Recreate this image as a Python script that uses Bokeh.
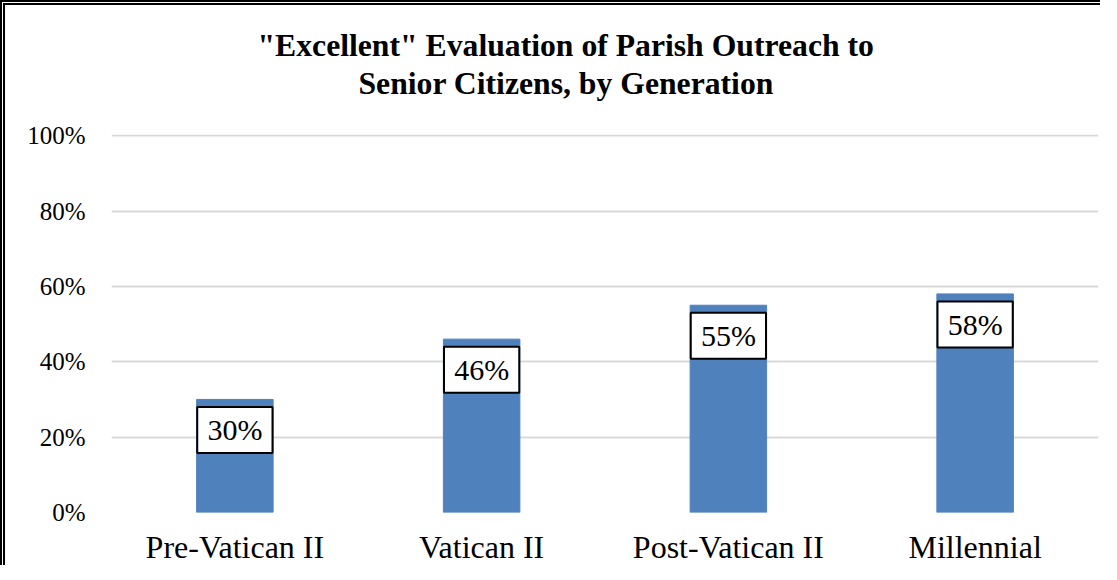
from bokeh.plotting import figure
from bokeh.models import ColumnDataSource, FactorRange, Range1d, NumeralTickFormatter, Title, FixedTicker
from bokeh.core.properties import value
from bokeh.embed import file_html
from bokeh.resources import INLINE

# Data
categories = ["Pre-Vatican II", "Vatican II", "Post-Vatican II", "Millennial"]
excellent = [0.30, 0.46, 0.55, 0.58]
labels = ["30%", "46%", "55%", "58%"]
y_ticks = [0, 0.2, 0.4, 0.6, 0.8, 1.0]
title_lines = ['"Excellent" Evaluation of Parish Outreach to', "Senior Citizens, by Generation"]

FONT = "Liberation Serif"

src = ColumnDataSource(dict(
    cat=categories,
    val=excellent,
    lab=labels,
    ly=[v - 0.081 for v in excellent],
))

p = figure(
    x_range=FactorRange(*categories),
    y_range=Range1d(0, 1.003),
    width=1100, height=565,
    output_backend="svg", toolbar_location=None,
    min_border_left=106, min_border_right=7,
    min_border_top=129, min_border_bottom=58,
    styles={"border-left": "5px double #000", "border-top": "5px double #000"},
    title=None,
)
p.outline_line_color = None
p.background_fill_color = "white"
p.border_fill_color = "white"

p.xgrid.grid_line_color = None
p.ygrid.grid_line_color = "#D9D9D9"
p.ygrid.grid_line_width = 2

for ax in (p.xaxis, p.yaxis):
    ax.axis_line_color = None
    ax.major_tick_line_color = None
    ax.minor_tick_line_color = None
    ax.major_tick_out = 0
    ax.major_tick_in = 0
    ax.major_label_text_font = FONT
    ax.major_label_text_color = "black"

p.yaxis.ticker = FixedTicker(ticks=y_ticks)
p.yaxis.formatter = NumeralTickFormatter(format="0%")
p.yaxis.major_label_text_font_size = "25px"
p.yaxis.major_label_standoff = 26
p.xaxis.major_label_text_font_size = "32px"
p.xaxis.major_label_standoff = 16

p.vbar(x="cat", top="val", width=0.31, fill_color="#4F81BD", line_color="#4F81BD", source=src)
p.rect(x="cat", y="ly", width=0.305, height=46, height_units="screen",
       fill_color="white", line_color="black", line_width=2, source=src)
p.text(x="cat", y="ly", text="lab", text_align="center", text_baseline="middle",
       text_font=value(FONT), text_font_size="30px", text_color="black", source=src)

# Title panels above the plot (first added sits closest to the plot area)
p.add_layout(Title(text="\u00a0", standoff=31, text_font_size="1px"), "above")  # spacer
p.add_layout(Title(text=title_lines[1], align="left", offset=247, standoff=0,
                   text_font=FONT, text_font_style="bold", text_font_size="31.7px",
                   text_color="black"), "above")
p.add_layout(Title(text=title_lines[0], align="left", offset=146, standoff=1,
                   text_font=FONT, text_font_style="bold", text_font_size="31.7px",
                   text_color="black"), "above")

open("out.html", "w").write(file_html(p, INLINE))
